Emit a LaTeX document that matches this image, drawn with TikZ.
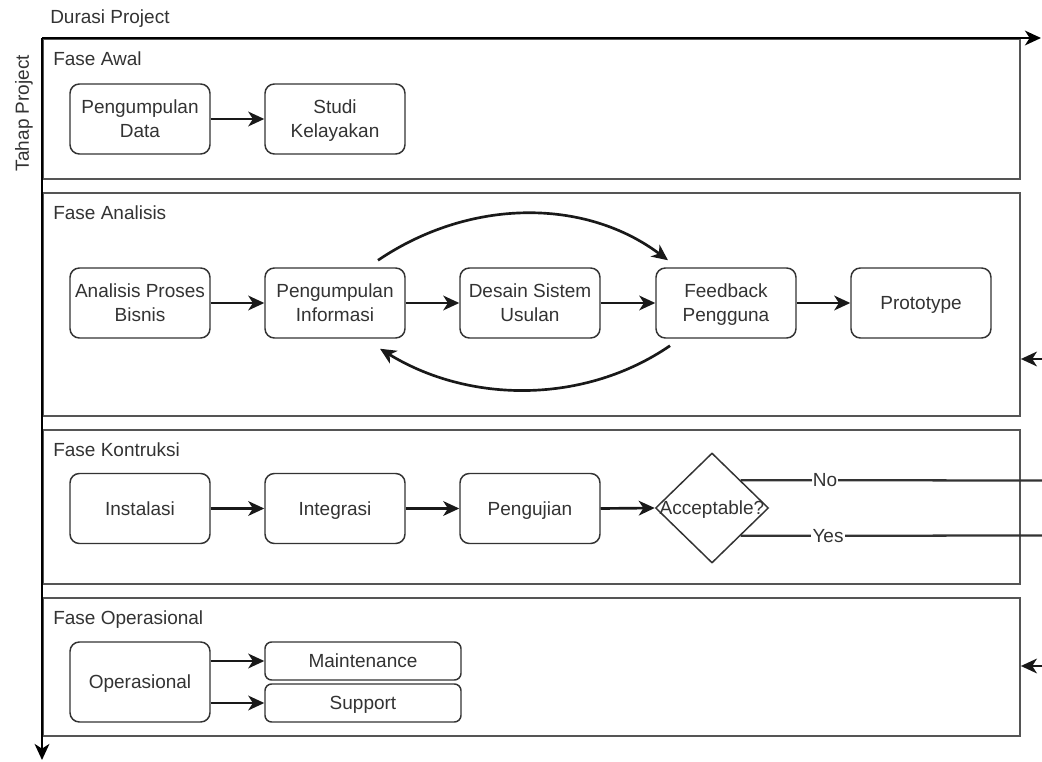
\documentclass[tikz,border=0pt]{standalone}
\usepackage{fontspec}
\setmainfont{Liberation Sans}
\usetikzlibrary{arrows.meta,shapes.geometric}
\definecolor{ink}{HTML}{333333}
\definecolor{lanegray}{HTML}{555555}
\newcommand{\bstrut}{\rule[-4.1pt]{0pt}{18pt}}
\begin{document}
\begin{tikzpicture}[x=0.75pt,y=-0.75pt,
  every node/.style={font=\fontsize{14.25}{18}\selectfont, text=ink},
  box/.style={draw=ink, line width=1.1pt, rounded corners=7pt, minimum width=105pt, minimum height=52.5pt, align=center, inner sep=2pt},
  smallbox/.style={draw=ink, line width=1.1pt, rounded corners=5pt, minimum width=147pt, minimum height=28.5pt, align=center, inner sep=1pt},
  lane/.style={draw=lanegray, line width=1.4pt, anchor=north west, minimum width=732.75pt, inner sep=0pt},
  conn/.style={draw=black!90, line width=2pt, -{Stealth[length=12pt,width=11pt,inset=3.5pt]}},
  axisline/.style={draw=black, line width=1.9pt, -{Stealth[length=12pt,width=11pt,inset=3.5pt]}},
  plainline/.style={draw=ink, line width=1.7pt},
  lanetitle/.style={anchor=base west, inner sep=0pt},
  lbl/.style={fill=white, inner sep=1pt}
]
\useasboundingbox (0,0) rectangle (1042,762);
\fill[white] (0,0) rectangle (1042,762);

% lanes
\node[lane, minimum height=105pt] (awal) at (42,38) {};
\node[lane, minimum height=167.25pt] (analisis) at (42,192) {};
\node[lane, minimum height=115.5pt] (kons) at (42,429) {};
\node[lane, minimum height=103.5pt] (opr) at (42,597) {};

% axes
\coordinate (origin) at (42,38);
\coordinate (xend) at (1041,38);
\coordinate (yend) at (42,760);
\draw[axisline] (origin) -- (xend);
\draw[axisline] (origin) -- (yend);
\node[anchor=base west, inner sep=0pt] (durasi) at (50,24) {Durasi Project};
\node[rotate=90, inner sep=0pt] (tahap) at (24,113) {Tahap Project};

% lane titles
\node[lanetitle] (tawal) at (53,66) {Fase Awal};
\node[lanetitle] (tanalisis) at (53,220) {Fase Analisis};
\node[lanetitle] (tkons) at (53,457) {Fase Kontruksi};
\node[lanetitle] (topr) at (53,624) {Fase Operasional};

% Fase Awal
\node[box] (pdata) at (140,119) {\bstrut Pengumpulan\\\bstrut Data};
\node[box] (studi) at (335,119) {\bstrut Studi\\\bstrut Kelayakan};
\draw[conn] (pdata.east) -- (studi.west);

% Fase Analisis
\node[box] (apb) at (140,303) {\bstrut Analisis Proses\\\bstrut Bisnis};
\node[box] (pinfo) at (335,303) {\bstrut Pengumpulan\\\bstrut Informasi};
\node[box] (desain) at (530,303) {\bstrut Desain Sistem\\\bstrut Usulan};
\node[box] (fb) at (726,303) {\bstrut Feedback\\\bstrut Pengguna};
\node[box] (proto) at (921,303) {\bstrut Prototype};
\draw[conn] (apb.east) -- (pinfo.west);
\draw[conn] (pinfo.east) -- (desain.west);
\draw[conn] (desain.east) -- (fb.west);
\draw[conn] (fb.east) -- (proto.west);
\draw[conn] ([xshift=32.25pt,yshift=5.25pt]pinfo.north) .. controls (470,198) and (585,198) .. ([xshift=-43.5pt,yshift=5.25pt]fb.north);
\draw[conn] ([xshift=-42pt,yshift=-5.25pt]fb.south) .. controls (585,404) and (470,404) .. ([xshift=33.75pt,yshift=-7.5pt]pinfo.south);
\coordinate (in1) at (1042,359);
\draw[conn] (in1) -- (in1 -| analisis.east);

% Fase Kontruksi
\node[box] (inst) at (140,508.5) {\bstrut Instalasi};
\node[box] (integ) at (335,508.5) {\bstrut Integrasi};
\node[box] (uji) at (530,508.5) {\bstrut Pengujian};
\node[diamond, draw=ink, line width=1.1pt, minimum width=84.75pt, minimum height=82.5pt, inner sep=0pt] (dia) at (712,508) {};
\node[inner sep=0pt] (acc) at (dia.center) {\bstrut Acceptable?};
\draw[conn] (inst.east) -- (integ.west);
\draw[conn] (integ.east) -- (uji.west);
\draw[conn] (uji.east) -- (dia.west);
\coordinate (noend) at (1042,480.5);
\coordinate (yesend) at (1042,535.5);
\draw[plainline] (dia.north east) -- node[lbl, pos=0.28] (nolbl) {No} (noend);
\draw[plainline] (dia.south east) -- node[lbl, pos=0.29] (yeslbl) {Yes} (yesend);

% Fase Operasional
\node[box, minimum height=60pt] (ops) at (140,682) {\bstrut Operasional};
\node[smallbox] (mnt) at (363,661) {\bstrut Maintenance};
\node[smallbox] (sup) at (363,703) {\bstrut Support};
\draw[conn] (mnt.west -| ops.east) -- (mnt.west);
\draw[conn] (sup.west -| ops.east) -- (sup.west);
\coordinate (in2) at (1042,666);
\draw[conn] (in2) -- (in2 -| opr.east);
\end{tikzpicture}
\end{document}
